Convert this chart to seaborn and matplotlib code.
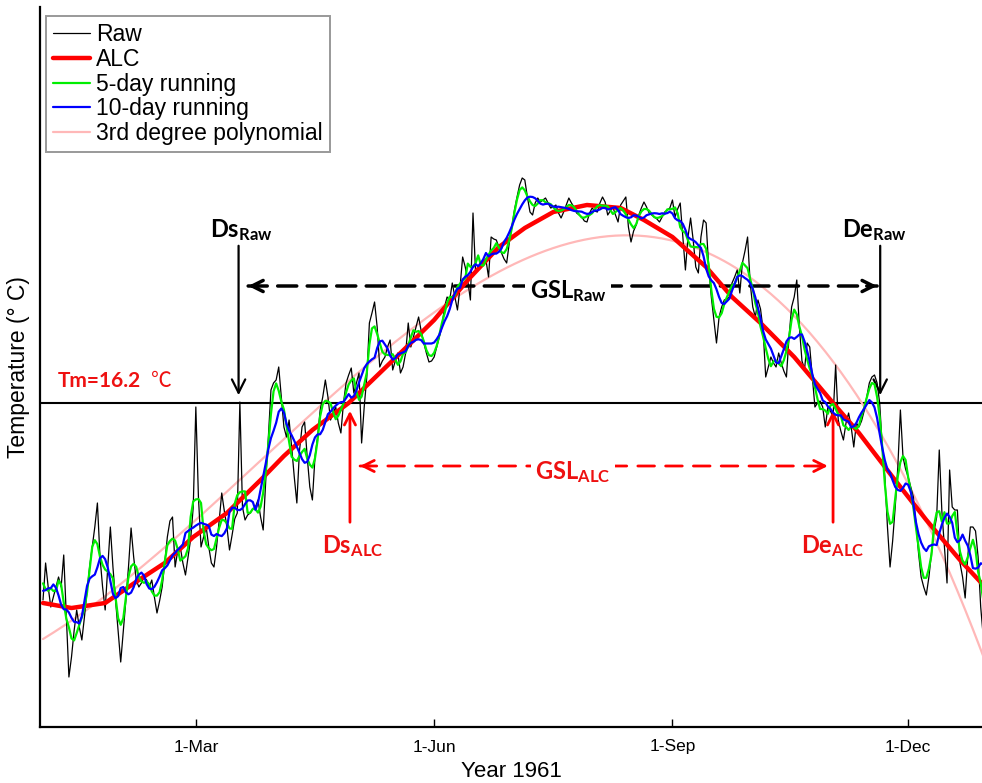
import numpy as np
import pandas as pd
import matplotlib
matplotlib.use("Agg")
import matplotlib.pyplot as plt
import seaborn as sns

sns.set_theme(style="white")
plt.rcParams["font.family"] = ["Liberation Sans", "DejaVu Sans"]
plt.rcParams["mathtext.fontset"] = "custom"
plt.rcParams["mathtext.bf"] = "Lato:bold"
plt.rcParams["mathtext.rm"] = "Lato"
plt.rcParams["text.color"] = "black"
plt.rcParams["axes.labelcolor"] = "black"
plt.rcParams["xtick.color"] = "black"

# daily mean temperature, 1961, starting 1 Jan
raw_temp = [
    6.35, 8.2, 7.0, 6.0, 6.5, 7.0, 7.5, 7.0, 8.6, 5.5,
    2.5, 3.5, 4.8, 5.85, 5.0, 4.35, 5.5, 6.8, 8.0, 9.0,
    10.0, 11.2, 8.5, 7.0, 5.85, 8.0, 10.0, 8.0, 6.35, 4.8,
    3.25, 4.8, 6.35, 8.0, 9.95, 8.5, 7.35, 7.0, 7.2, 7.5,
    7.35, 7.0, 7.35, 6.5, 5.7, 6.3, 7.0, 8.2, 9.5, 10.3,
    10.5, 8.0, 8.8, 9.0, 8.2, 7.6, 8.5, 9.4, 11.0, 16.0,
    11.5, 9.0, 9.5, 10.0, 9.0, 8.2, 8.0, 9.0, 10.3, 11.7,
    10.8, 10.0, 8.85, 9.6, 10.4, 10.7, 16.25, 11.0, 10.35, 10.6,
    10.7, 10.9, 11.0, 11.35, 10.5, 9.85, 12.35, 14.5, 16.85, 17.2,
    17.35, 18.0, 16.5, 15.0, 14.5, 15.35, 14.0, 12.5, 11.2, 13.8,
    15.0, 15.25, 13.5, 12.0, 11.35, 13.5, 14.5, 15.85, 16.5, 17.35,
    16.5, 15.35, 15.7, 16.0, 15.2, 14.7, 16.2, 17.2, 17.6, 17.95,
    16.7, 17.2, 17.7, 14.2, 16.0, 17.5, 20.2, 20.7, 21.25, 20.0,
    18.0, 18.3, 18.5, 19.0, 19.35, 17.85, 18.3, 18.7, 17.7, 18.0,
    18.7, 20.2, 19.0, 19.5, 20.0, 20.5, 19.8, 19.2, 18.7, 18.25,
    18.3, 18.5, 19.0, 19.5, 20.0, 21.0, 21.5, 21.35, 22.2, 21.5,
    20.85, 22.0, 23.5, 23.0, 22.3, 21.35, 25.7, 22.7, 23.0, 23.2,
    23.3, 23.35, 22.5, 24.5, 24.4, 24.35, 24.0, 23.7, 23.4, 23.2,
    24.2, 25.0, 25.85, 26.5, 27.1, 27.45, 27.35, 26.5, 25.75, 25.6,
    26.2, 26.45, 26.25, 26.35, 26.45, 26.2, 25.95, 26.0, 26.1, 25.7,
    25.45, 25.75, 26.1, 26.45, 26.2, 26.0, 25.7, 25.6, 25.5, 25.3,
    25.25, 25.7, 25.95, 25.8, 25.75, 26.2, 26.5, 26.25, 25.6, 25.8,
    26.0, 25.6, 25.25, 26.1, 26.3, 26.5, 25.0, 24.25, 24.8, 25.1,
    25.6, 25.95, 26.25, 26.0, 25.7, 25.6, 25.5, 25.4, 25.25, 25.5,
    25.75, 25.85, 25.95, 26.35, 25.5, 25.9, 26.2, 24.5, 22.85, 24.5,
    25.45, 24.35, 23.0, 22.7, 24.5, 25.35, 25.2, 23.0, 21.5, 20.35,
    19.2, 20.5, 21.0, 21.35, 21.4, 21.5, 22.2, 22.5, 22.85, 21.7,
    23.2, 23.8, 24.5, 22.2, 21.0, 20.5, 21.35, 20.9, 19.85, 17.5,
    18.0, 18.5, 18.2, 18.0, 18.7, 18.2, 17.8, 17.5, 19.5, 21.0,
    21.5, 22.35, 20.0, 18.3, 17.9, 19.2, 19.0, 17.5, 16.0, 16.2,
    16.3, 16.0, 15.0, 16.0, 15.8, 15.5, 18.1, 15.35, 14.8, 14.35,
    15.2, 15.7, 15.0, 14.0, 15.2, 15.0, 15.3, 15.8, 16.5, 17.2,
    17.5, 17.6, 17.2, 16.2, 14.0, 12.5, 10.0, 8.0, 9.3, 11.0,
    13.0, 15.85, 13.5, 12.9, 12.5, 12.0, 11.5, 10.2, 8.7, 7.5,
    7.0, 6.6, 7.5, 8.7, 9.8, 10.5, 13.85, 10.8, 9.0, 7.2,
    12.85, 11.0, 10.85, 10.85, 8.2, 7.5, 6.45, 8.5, 10.0, 10.0,
    9.8, 8.5, 6.0, 4.5,
]

# asymmetric logistic curve (ALC) read at these days
alc_day = [0, 11, 24, 37, 47, 58, 71, 84, 93, 104, 118, 130, 140, 151, 164, 176,
           186, 197, 210, 223, 232, 243, 256, 266, 277, 290, 305, 315, 328, 341, 354, 363]
alc_temp = [6.2, 5.95, 6.2, 7.35, 8.2, 9.5, 10.7, 12.35, 13.55, 14.85, 16.2, 17.7,
            18.95, 20.35, 22.35, 24.0, 24.95, 25.75, 26.1, 25.95, 25.35, 24.5, 23.0,
            21.5, 20.2, 18.5, 16.2, 14.7, 12.5, 10.35, 8.35, 7.1]

tm = 16.2
year_start = "1961-01-01"
tick_dates = ["1961-03-01", "1961-06-01", "1961-09-01", "1961-12-01"]
tick_labels = ["1-Mar", "1-Jun", "1-Sep", "1-Dec"]

# derived series
df = pd.DataFrame({"day": np.arange(len(raw_temp)), "Raw": raw_temp})
df["5-day running"] = df["Raw"].rolling(5, center=True, min_periods=1).mean()
df["10-day running"] = df["Raw"].rolling(10, center=True, min_periods=1).mean()
coef = np.polyfit(df["day"], df["Raw"], 3)
df["3rd degree polynomial"] = np.polyval(coef, df["day"])
alc = pd.DataFrame({"day": alc_day, "ALC": alc_temp})

fig = plt.figure(figsize=(9.82, 7.83), dpi=100)
ax = fig.add_axes([40 / 982, 56 / 783, 942 / 982, 720 / 783])

ax.axhline(tm, color="black", lw=1.5, zorder=1.5)
sns.lineplot(data=df, x="day", y="3rd degree polynomial", ax=ax, color="#ffb8b8", lw=1.6, zorder=2)
sns.lineplot(data=df, x="day", y="Raw", ax=ax, color="black", lw=0.9, zorder=3)
sns.lineplot(data=alc, x="day", y="ALC", ax=ax, color="#ff0000", lw=3.2, zorder=4)
sns.lineplot(data=df, x="day", y="5-day running", ax=ax, color="#00ee00", lw=1.6, zorder=5)
sns.lineplot(data=df, x="day", y="10-day running", ax=ax, color="#0000ff", lw=1.6, zorder=6)

ax.set_xlim(-1.16, 362.5)
ax.set_ylim(0, 36)
ticks = (pd.to_datetime(tick_dates) - pd.Timestamp(year_start)).days
ax.set_xticks(ticks)
ax.set_xticklabels(tick_labels, fontsize=12.5)
ax.set_yticks([])
ax.tick_params(axis="x", direction="in", length=6, width=1, pad=9, bottom=True)
for s in ["top", "right"]:
    ax.spines[s].set_visible(False)
for s in ["left", "bottom"]:
    ax.spines[s].set_color("black")
    ax.spines[s].set_linewidth(1.6)
ax.set_xlabel("Year 1961", fontsize=16, labelpad=5)
ax.set_ylabel("Temperature (° C)", fontsize=16.5, labelpad=7)

# legend
lines = ax.get_lines()
handles = [lines[2], lines[3], lines[4], lines[5], lines[1]]
labels = ["Raw", "ALC", "5-day running", "10-day running", "3rd degree polynomial"]
leg = ax.legend(handles, labels, loc="upper left", bbox_to_anchor=(0.0064, 0.9875),
                borderaxespad=0, fontsize=16.5, labelspacing=0.08, handlelength=1.6,
                handletextpad=0.3, borderpad=0.3, fancybox=False, framealpha=1)
leg.get_frame().set_edgecolor("#999999")
leg.get_frame().set_linewidth(1.4)

# threshold label
ax.text(5.8, 17.3, "Tm=16.2", color="#ee1111", fontsize=15, fontweight="bold",
        family=["Lato", "DejaVu Sans"], va="center", ha="left")
ax.text(41.5, 17.3, "℃", color="#ee1111", fontsize=15,
        family=["Noto Sans CJK SC", "DejaVu Sans"], va="center", ha="left")

bold = dict(fontsize=17, ha="center")

# start / end of growing season from raw data
ax.text(76.5, 24.85, r"$\mathbf{Ds_{Raw}}$", color="black", va="center", **bold)
ax.annotate("", xy=(75.5, 16.45), xytext=(75.5, 24.2),
            arrowprops=dict(arrowstyle="->", color="black", lw=1.6, mutation_scale=24))
ax.text(321, 24.85, r"$\mathbf{De_{Raw}}$", color="black", va="center", **bold)
ax.annotate("", xy=(323.2, 16.45), xytext=(323.2, 24.2),
            arrowprops=dict(arrowstyle="->", color="black", lw=1.6, mutation_scale=24))


def span(x0, x1, y, color, lw, dash):
    ax.annotate("", xy=(x1, y), xytext=(x0, y),
                arrowprops=dict(arrowstyle="-", color=color, lw=lw, linestyle=(0, dash),
                                shrinkA=0, shrinkB=0))
    for a, b in ((x0, x0 + 4), (x1, x1 - 4)):
        ax.annotate("", xy=(a, y), xytext=(b, y),
                    arrowprops=dict(arrowstyle="->", color=color, lw=lw, mutation_scale=20,
                                    shrinkA=0, shrinkB=0))


span(79.2, 322, 22.05, "black", 2.5, (5.5, 3))
ax.text(202.7, 21.8, r"$\mathbf{GSL_{Raw}}$", color="black", va="center",
        bbox=dict(facecolor="white", edgecolor="none", pad=3), **bold)

# start / end of growing season from ALC
ax.annotate("", xy=(118.5, 15.95), xytext=(118.5, 10.1),
            arrowprops=dict(arrowstyle="->", color="#ff0000", lw=2, mutation_scale=20))
ax.text(119.5, 9.7, r"$\mathbf{Ds_{ALC}}$", color="#ee1111", va="top", **bold)
ax.annotate("", xy=(305, 15.95), xytext=(305, 10.1),
            arrowprops=dict(arrowstyle="->", color="#ff0000", lw=2, mutation_scale=20))
ax.text(305, 9.7, r"$\mathbf{De_{ALC}}$", color="#ee1111", va="top", **bold)

span(122.4, 303, 13.05, "#ff0000", 2.0, (6, 4))
ax.text(204.6, 12.75, r"$\mathbf{GSL_{ALC}}$", color="#ee1111", va="center",
        bbox=dict(facecolor="white", edgecolor="none", pad=3), **bold)

fig.savefig("out.png", dpi=100)
